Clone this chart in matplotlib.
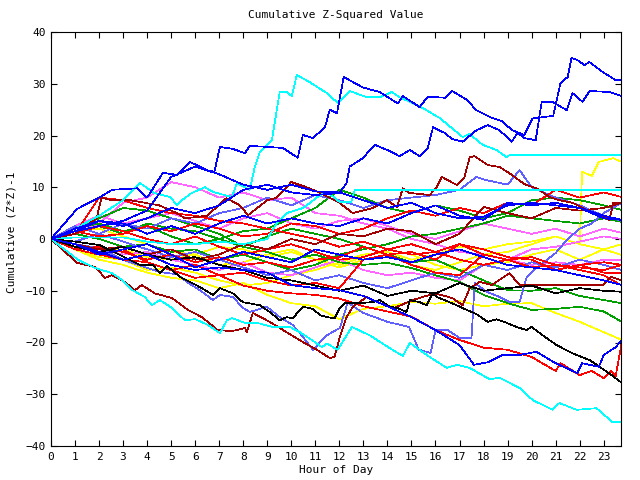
import matplotlib
matplotlib.use('Agg')
import matplotlib.pyplot as plt

# hourly grid shared by most of the walks
hours = [0, 1, 2, 3, 4, 5, 6, 7, 8, 9, 10, 11, 12, 13, 14, 15, 16, 17, 18, 19, 20, 21, 22, 23, 23.75]

# walks with their own sample points (sharp jumps)
a_h = [0, 1.08, 2.04, 2.54, 3.58, 4.0, 4.66, 5.24, 5.78, 6.49, 6.8, 7.03, 7.57, 8.07, 8.27, 8.98, 9.65, 10.27, 10.48, 10.9,
       11.4, 11.6, 11.9, 12.18, 12.97, 13.68, 14.43, 14.64, 15.34, 15.68, 16.4, 16.7, 17.3, 17.7, 18.25, 18.75, 19.2, 19.7, 20.04, 20.9,
       21.2, 21.5, 21.66, 21.9, 22.2, 22.4, 22.95, 23.5, 23.75]
a_v = [0, 5.8, 8.1, 9.5, 9.8, 8.0, 12.8, 12.4, 14.9, 13.3, 13.0, 17.8, 17.4, 16.6, 18.0, 17.8, 17.6, 15.7, 20.1, 19.5,
       21.6, 25.0, 24.3, 31.3, 29.3, 28.4, 26.2, 27.6, 25.5, 27.5, 27.3, 28.6, 26.9, 24.9, 23.6, 22.8, 21.0, 20.1, 23.3, 23.8,
       30.1, 31.3, 35.0, 34.6, 33.6, 34.2, 32.3, 30.7, 30.7]

b_h = [0, 1, 2, 3, 4, 5, 6, 7, 8, 9, 10, 11, 12, 12.3, 12.43, 12.97, 13.47, 14.1, 14.5, 14.93,
       15.34, 15.68, 15.9, 16.38, 16.7, 17.13, 17.7, 18.17, 18.67, 19.17, 19.42, 19.7, 20.17, 20.42,
       20.87, 21.46, 21.7, 22.12, 22.41, 23.24, 23.75]
b_v = [0, 1.5, 3.5, 2.5, 4, 6, 5, 6.5, 9.5, 10.5, 9, 8.5, 8.9, 10.8, 14, 15.6, 18.2, 17, 16, 17.2,
       16, 17.6, 21.6, 20.5, 19.3, 18.8, 21, 22, 21, 18.8, 20.5, 19.5, 19.1, 26.5,
       26.5, 24.9, 28.2, 26.5, 28.6, 28.4, 27.6]

d_h = [0, 1, 2, 3, 3.7, 4.3, 4.95, 5.24, 5.45, 5.86, 6.4, 6.74, 7.53, 7.73, 8.27, 8.48, 8.69, 9.19, 9.52, 9.8,
       10.02, 10.23, 10.77, 11.48, 11.93, 12.43, 13.14, 13.68, 14.18, 14.5, 14.93, 15.47, 16.17, 17.13, 17.42,
       17.96, 18.54, 18.96, 19.08, 23.75]
d_v = [0, 2, 4.5, 7.5, 10.8, 8.9, 8.1, 6.6, 7.5, 8.9, 10, 9.1, 8.1, 10.8, 9.5, 13.9, 16.8, 19.1, 28.4, 28.4,
       27.6, 31.7, 30.3, 28.2, 26.3, 28.6, 27.4, 27.4, 28.4, 27.4, 26.5, 25.3, 23.4, 19.7, 20.3,
       18.2, 17.2, 15.8, 16.2, 16.2]

e_h = [0, 1, 2, 3, 4, 5, 6, 7, 8, 9, 9.4, 9.8, 10.5, 11.2, 11.5, 12.0, 12.5, 12.64, 23.75]
e_v = [0, 0.3, 0.3, 0.3, -0.5, -1, -1, -0.5, -1, 0, 3.1, 5, 6, 8.5, 9.1, 7.2, 7.2, 9.5, 9.5]

f_h = [0, 1, 1.9, 2.1, 2.5, 3.3, 4.5, 5.24, 5.57, 6.5, 7.3, 7.86, 8.2, 9.0, 9.4, 10.0, 10.64, 11.2, 12.0, 12.56,
       13.4, 13.97, 14.4, 14.64, 14.9, 15.76, 16.05, 16.26, 16.9, 17.2, 17.42, 17.63, 18.17, 18.67, 19.08, 19.7,
       20.25, 20.75, 21.16, 21.7, 22.29, 22.83, 23.24, 23.4, 23.75]
f_v = [0, 1, 4, 8, 7.5, 7.5, 6.5, 5, 4, 4.5, 7.9, 6.5, 4.6, 7.5, 8, 11, 10, 8.9, 7, 5,
       6, 7.5, 6.2, 9.8, 8.9, 8.5, 10, 12, 10.4, 11.8, 15.8, 16, 14.3, 13.9, 12.7, 10.6,
       9.7, 8.1, 7.5, 7, 5.6, 4.6, 3.7, 7, 7]

g_h = [0, 1, 2, 3, 4, 5, 6, 7, 8, 9, 10, 11, 12, 13, 14, 15, 16, 17, 18, 19, 20, 21, 22,
       22.1, 22.5, 22.8, 23.4, 23.75]
g_v = [0, -1, -2.5, -2, -3.5, -4, -3, -5, -4.5, -3, -2, -4, -5.5, -4, -3, -5, -6, -4.5, -3, -2.5, -1, 0.5, -1,
       13, 12.2, 14.9, 15.6, 14.9]

h_h = [0, 1.12, 1.83, 2.54, 2.95, 3.4, 3.9, 4.2, 4.53, 5.03, 5.57, 6.0, 6.53, 7.03, 7.32, 7.53, 8.07, 8.57, 9.23, 9.94,
       10.35, 10.85, 11.27, 11.48, 11.93, 12.52, 13.26, 14.1, 14.64, 14.93, 15.76, 16.47, 16.9, 17.42, 18.25, 18.67,
       19.5, 20.04, 20.87, 21.16, 21.87, 22.7, 23.37, 23.75]
h_v = [0, -4, -5.6, -6.6, -7.9, -9.9, -11.2, -12.8, -11.8, -13.3, -15.7, -15.5, -16.6, -18.2, -15.7, -15.3, -16.2, -16.2, -17, -17,
       -18, -19.5, -20.9, -20.2, -21.4, -17, -18.6, -21.1, -22.6, -20.1, -22.8, -24.9, -24.3, -24.9, -27.1, -26.8,
       -28.8, -31.1, -33, -31.7, -33, -32.7, -35.4, -35.4]

i_h = [0, 1.08, 1.83, 2.25, 2.54, 3.08, 3.49, 3.78, 4.32, 5.03, 5.7, 6.28, 6.94, 7.53, 8.07, 8.15, 8.4, 9.1, 9.8, 10.48,
       11.06, 11.6, 11.8, 12.02, 12.3, 12.56, 13.14, 13.68, 14.3, 15.05, 15.97, 16.7, 17.13, 17.42, 17.84, 18.34,
       19.08, 19.5, 22.95, 23.3, 23.75]
i_v = [0, -4.6, -5.4, -7.5, -7, -8.3, -9.9, -8.9, -10.5, -11.4, -13.7, -15.1, -17.6, -17.8, -17.2, -18, -14.3, -16, -18, -19.9,
       -21.4, -23, -22.8, -18.9, -15.1, -13.1, -11.2, -12.4, -13.3, -11.8, -10.5, -11.4, -12.8, -9.5, -8.3, -8.9,
       -6.6, -8.9, -8.9, -7.3, -8]

j_h = [0, 1, 2.04, 2.87, 3.7, 4.24, 4.53, 4.82, 5.36, 5.78, 6.2, 6.74, 7.03, 7.57, 7.98, 8.69, 9.1, 9.52, 9.81, 10.06,
       10.48, 10.9, 11.19, 11.48, 11.8, 12.02, 12.22, 12.76, 13.39, 13.68, 14.1, 14.4, 14.8, 14.93, 15.34, 15.63,
       15.88, 16.05, 16.47, 16.88, 17.3, 17.7, 18.17, 18.54, 18.96, 19.38, 19.79, 20.0, 20.46, 21.04, 21.66,
       22.41, 22.83, 23.33, 23.75]
j_v = [0, -0.5, -1.2, -3.1, -5, -5, -6.6, -5.2, -7.3, -8.3, -9.3, -10.8, -9.5, -10.5, -12.2, -12.8, -14.1, -15.7, -15.1, -15.3,
       -13.1, -13.5, -14.7, -15.1, -15.3, -13.3, -12.4, -12.4, -12.2, -11.8, -13.1, -13.3, -14.1, -11.8, -12.2, -12.8,
       -10.5, -11.2, -12, -12.8, -13.7, -14.5, -16, -15.5, -16.2, -17, -17.6, -17, -18.6, -20.5, -22,
       -23.4, -24.7, -26.3, -27.8]

k_h = [0, 1, 2.04, 3, 4.53, 5.24, 5.65, 6.2, 6.74, 7.03, 7.57, 7.98, 8.27, 8.98, 9.52, 10.06, 10.48, 10.9, 11.48, 12.02,
       12.35, 12.6, 13, 14, 14.9, 15.3, 15.8, 16.0, 16.5, 17.0, 17.5, 17.63, 18.13, 18.67, 19.08, 19.5, 19.8, 20.1,
       21.0, 21.5, 22, 22.5, 23, 23.75]
k_v = [0, -1, -1.8, -4, -6.4, -6.8, -8.3, -9.9, -11.8, -10.8, -11.2, -13.3, -14.1, -13.1, -15.1, -16.6, -18.9, -21.4, -18.6, -17.2,
       -12.2, -13.1, -14.3, -16, -17, -21.4, -22, -17.6, -17.6, -19.1, -19.1, -8.5, -10.2, -11.2, -12.2, -12.2, -7.3, -6,
       -2.7, 0, 2, 3, 5, 7]

m_h = [0, 1, 2, 3, 4, 5, 6, 7, 8, 9, 10, 11, 12, 13, 14, 15, 16, 17, 18, 19, 20, 21, 21.2, 22, 22.5, 23, 23.3, 23.5, 23.75]
m_v = [0, -2, -3, -4, -4.5, -6, -7.5, -7, -9, -10, -10.5, -10.8, -11.5, -13, -14, -15, -17.6, -19.5, -21, -21.4, -22.8,
       -25.5, -24, -26.3, -25.5, -26.9, -25.5, -26.5, -20]

n_h = [0, 1, 2, 3, 4, 5, 6, 7, 8, 9, 10, 11, 12, 13, 14, 15, 16, 17, 17.6, 18.2, 18.8, 19.5, 20.2, 21, 21.9, 22.1,
       22.8, 23, 23.5, 23.75]
n_v = [0, -1, -2.5, -4, -3, -5, -6, -5.5, -6, -6.5, -8.9, -9.5, -9.9, -11, -13, -15.1, -17.6, -20.5, -24.3, -23.8,
       -22.4, -22.4, -21.8, -24, -25.9, -24, -24.7, -22.4, -20.9, -19.5]

aa_h = [0, 1, 2, 3, 4, 5, 6, 7, 8, 9, 10, 11, 12, 13, 14, 15, 16, 17, 17.7, 18, 19, 19.5, 20, 21, 22, 23, 23.75]
aa_v = [0, 2.5, 1, 3, 2, 4, 3, 5, 6, 8, 6.5, 8.5, 7.5, 6, 7.5, 8, 8.5, 9.5, 12, 11.5, 10.5, 13.3, 10, 8, 6.5, 4.5, 3.5]

# walks on the hourly grid
blue_c = [0, 1.5, 2.5, 3.5, 5.5, 12, 14, 12.5, 10.5, 9.5, 10.5, 9.2, 9, 7.5, 6, 7, 5, 4, 4.3, 6.5, 7, 6.5, 6, 4.5, 3.7]
blue_2 = [0, 2, 3.5, 3, 1, 2.5, 1, 3, 4.5, 3, 4, 3, 2.5, 4, 3, 5, 6.5, 4.5, 3.7, 7, 6.5, 7, 6, 4, 3.7]
blue_3 = [0, -1, -3, -2, -1, -3, -5.5, -4, -2.5, -3.5, -4.5, -2, -3, -4, -3.5, -4.5, -3, -2, -3.5, -5, -5.5, -6, -7, -8, -8.9]
red_1 = [0, 1.5, 0.5, 1, 2.5, 1.5, 3, 2, 0.5, 1, 3, 2.5, 1, 2, 4, 5.5, 4.5, 6, 5, 7, 6.5, 9.5, 8, 9, 8.1]
red_2 = [0, 1, 2.5, 1.5, 0, -1, 0.5, -1.5, -3, -2, -1, -2.5, -4, -3.5, -2, -1, -2.5, -1, -3, -4, -3.5, -5, -5.5, -6, -5]
red_3 = [0, -2, -1.5, -2.5, -4, -3, -4.5, -3.5, -5, -4.5, -5.5, -4, -3.5, -1.5, -3, -2.5, -4, -1, -2, -3.5, -4, -6, -5, -6.5, -6.6]
red_4 = [0, -1, -3, -2, -4.5, -6, -5, -7, -6.5, -8, -9, -8.5, -9.5, -4, -3, -5, -6.5, -7, -3, -4, -5.5, -5, -6, -7, -9]
red_5 = [0, 1, 8, 7.5, 6, 5, 4.5, 3.5, 3, 2, 1, 0, -1.5, -0.5, -2, -3, -2.5, -4, -5, -4, -5.5, -6, -5, -4.5, -5]
dkred_2 = [0, -1, -2, -1.5, -3, -2, -4, -3, -1, -2, 0, -1, 1, 0.5, 2, 1.5, -1, 1, 6.2, 5, 4, 6, 5.5, 6, 7]
green_1 = [0, 2, 3, 1.5, 2.5, 0.5, -1, 0, 1.5, 2, 4, 6, 9.5, 8, 6, 5, 6.5, 5.5, 4, 5, 7.5, 8, 7.5, 6.5, 5.6]
green_2 = [0, 1, 0, -1.5, -1, -2.5, -2, -4, -3, -4.5, -6, -5, -3, -2, -1, 0.5, 1, 2, 3, 4.5, 4, 3.5, 3, 4, 3.3]
green_3 = [0, 1, 2.5, 1, 3, 2, 1.5, 0, -1.5, 0.5, 2, 1, 0, -1.5, -3, -4.5, -4, -6, -8, -9.9, -10, -9.5, -11, -11.8, -12.4]
green_4 = [0, 2, 4, 6, 5.5, 4, 2.5, 1, -1.5, -2.5, -4, -3, -4.5, -5, -4.6, -5.6, -7, -8.3, -10.8, -12.4, -13.7, -13.5, -13.1, -14, -16]
pink_1 = [0, 2.5, 4.5, 3, 4, 5, 3.5, 2, 4, 5, 3, 2, 3.5, 4, 2.5, 1, 0, 1.5, 3, 2, 1, 2, 0.5, 2, 1.2]
pink_2 = [0, -1, -2, -3, -2.5, -4, -5, -6, -4.5, -6.5, -7, -5.5, -4, -6, -7, -6.5, -7.5, -8, -5, -4, -2, -1.5, -0.5, 0.5, 0]
pink_3 = [0, 1, 3, 7, 8, 11, 10, 8, 9, 7.5, 8, 5, 4.5, 3, 2, 0, -1, -2.5, -3, -4, -5, -4.5, -5, -4, -4]
yellow_2 = [0, 1.5, 2, 0.5, -1, -2.5, -3, -1.5, -2, -3.5, -2.5, -4, -5, -3.5, -2, -3, -5, -6, -5, -4.5, -3, -2, -4, -2, -1]
yellow_3 = [0, -2, -3.5, -4, -6, -5.5, -6.5, -8, -9, -8.5, -7, -6, -4.5, -3, -2.5, -4, -3, -1.5, -2, -1, -0.5, 0.5, -1, -2, -3.1]
yellow_4 = [0, -2, -4, -5, -6.5, -7.5, -8, -9.5, -8.5, -10.8, -12.4, -13, -15.5, -13.5, -13, -12.2, -12.5, -12, -13, -12.5, -12.4, -14.3, -16, -18, -19.5]
slate_2 = [0, -0.5, 1, -0.5, -2, -3.5, -2.5, -4, -5.5, -7, -6, -8, -7, -8.5, -9.5, -8, -6.5, -7.5, -5, -6, -4.5, -5.5, -4, -5, -6]
black_2 = [0, -1.5, -2.5, -1.5, -3, -4, -3.5, -5, -6, -7.5, -8, -9, -10, -9, -11, -10, -10.5, -8.5, -10, -9.5, -9, -10.5, -9.5, -10, -10.2]

BLUE = '#0000ff'
CYAN = '#00ffff'
RED = '#ff0000'
DKRED = '#a00000'
GREEN = '#00a000'
PINK = '#ff66ff'
YELLOW = '#ffff00'
SLATE = '#6060ff'
BLACK = '#000000'

series = [
    (hours, yellow_2, YELLOW), (hours, yellow_3, YELLOW), (hours, yellow_4, YELLOW), (g_h, g_v, YELLOW),
    (hours, pink_1, PINK), (hours, pink_2, PINK), (hours, pink_3, PINK),
    (hours, green_1, GREEN), (hours, green_2, GREEN), (hours, green_3, GREEN), (hours, green_4, GREEN),
    (hours, slate_2, SLATE), (k_h, k_v, SLATE), (aa_h, aa_v, SLATE),
    (hours, red_1, RED), (hours, red_2, RED), (hours, red_3, RED), (hours, red_4, RED), (hours, red_5, RED),
    (m_h, m_v, RED),
    (hours, dkred_2, DKRED), (f_h, f_v, DKRED), (i_h, i_v, DKRED),
    (hours, black_2, BLACK), (j_h, j_v, BLACK),
    (d_h, d_v, CYAN), (e_h, e_v, CYAN), (h_h, h_v, CYAN),
    (hours, blue_c, BLUE), (hours, blue_2, BLUE), (hours, blue_3, BLUE),
    (n_h, n_v, BLUE), (b_h, b_v, BLUE), (a_h, a_v, BLUE),
]

plt.rcParams['font.family'] = 'DejaVu Sans Mono'
fig = plt.figure(figsize=(6.4, 4.8), dpi=100)
ax = fig.add_axes([51 / 640, 34 / 480, 570 / 640, 414 / 480])

for x, y, c in series:
    ax.plot(x, y, color=c, lw=0.5, antialiased=False)

ax.set_xlim(0, 23.72)
ax.set_ylim(-40, 40)
ax.set_xticks(range(24))
ax.set_yticks(range(-40, 41, 10))
ax.tick_params(direction='in', length=4.5, width=0.8, top=True, right=True, labelsize=8, pad=4)
for s in ax.spines.values():
    s.set_linewidth(0.8)

fig.text(336 / 640, 1 - 15 / 480, 'Cumulative Z-Squared Value', ha='center', va='center', fontsize=8)
fig.text(336 / 640, 1 - 470 / 480, 'Hour of Day', ha='center', va='center', fontsize=8)
fig.text(12 / 640, 1 - 232 / 480, 'Cumulative (Z*Z)-1', ha='center', va='center', rotation=90, fontsize=8)

plt.savefig('out.png', dpi=100)
